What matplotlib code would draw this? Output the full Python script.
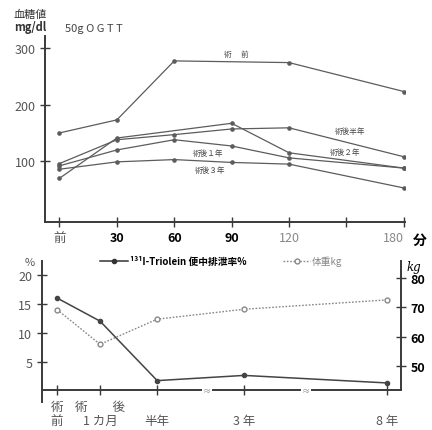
import matplotlib
matplotlib.use("Agg")
import matplotlib.pyplot as plt
from matplotlib.lines import Line2D

plt.rcParams['font.family'] = ['Noto Sans CJK JP', 'DejaVu Sans']

# 50g OGTT blood glucose (mg/dl)
minutes = [0, 30, 60, 90, 120, 180]
minutes_pre = [0, 30, 60, 120, 180]
minutes_2y = [0, 30, 90, 120, 180]
pre_op = [150, 173, 277, 274, 223]
half_year = [96, 138, 147, 157, 159, 108]
one_year = [92, 120, 138, 127, 106, 88]
two_year = [70, 141, 167, 115, 88]
three_year = [86, 99, 103, 98, 95, 53]

# 131I-Triolein fecal excretion (%) and body weight (kg)
periods = ['術\n前', '術　　後\n1 カ月', '\n半年', '\n3 年', '\n8 年']
period_pos = [0, 1, 2.33, 4.35, 7.67]
triolein = [16.0, 12.0, 1.7, 2.6, 1.3]
weight = [69.3, 57.4, 66.0, 69.4, 72.6]

line_c = '#5c5c5c'
axis_c = '#3a3a3a'
text_c = '#555555'

fig = plt.figure(figsize=(4.32, 4.31), dpi=100)

# upper chart
ax = fig.add_axes([0.104, 0.4833, 0.833, 0.431])
for xs, ys in [(minutes_pre, pre_op), (minutes, half_year), (minutes, one_year),
               (minutes_2y, two_year), (minutes, three_year)]:
    ax.plot(xs, ys, color=line_c, lw=0.9, marker='o', ms=2.3)
ax.set_xlim(-7.6, 180.5)
ax.set_ylim(-6.5, 321)
for s in ['top', 'right']:
    ax.spines[s].set_visible(False)
for s in ['left', 'bottom']:
    ax.spines[s].set_color(axis_c)
    ax.spines[s].set_linewidth(1.4)
ax.set_yticks([100, 200, 300])
ax.set_yticklabels(['100', '200', '300'], color=text_c, fontsize=9)
ax.set_xticks([0, 30, 60, 90, 120, 150, 180])
ax.set_xticklabels(['前', '30', '60', '90', '120', '', '180'], fontsize=9)
for lbl, c, w in zip(ax.get_xticklabels(), [text_c, 'black', 'black', 'black', '#888888', 'black', '#888888'],
                     ['normal', 'bold', 'bold', 'bold', 'normal', 'normal', 'normal']):
    lbl.set_color(c)
    lbl.set_fontweight(w)
ax.get_xticklabels()[-1].set_horizontalalignment('right')
ax.get_xticklabels()[-1].set_x(181)
ax.tick_params(direction='inout', length=7, width=1.0, color=axis_c, pad=3)

lab_kw = dict(fontsize=5.5, color='#444444', ha='center', va='center')
ax.text(92.6, 289, '術　 前', **lab_kw)
ax.text(152, 153, '術後半年', **lab_kw)
ax.text(149.5, 116, '術後２年', **lab_kw)
ax.text(77.5, 114, '術後１年', **lab_kw)
ax.text(78.5, 85, '術後３年', **lab_kw)

fig.text(30 / 432, 1 - 15 / 431, '血糖値', fontsize=8, color='#333333', ha='center', va='center')
fig.text(30 / 432, 1 - 28 / 431, 'mg/dl', fontsize=8, color='#333333', ha='center', va='center',
         fontweight='bold')
fig.text(65 / 432, 1 - 29 / 431, '50g O G T T', fontsize=8, color='#444444', ha='left', va='center')
fig.text(420 / 432, 1 - 241 / 431, '分', fontsize=10, color='black', ha='center', va='center',
         fontweight='bold')

# lower chart
bx = fig.add_axes([0.0972, 0.065, 0.831, 0.327])
bx.plot(period_pos, triolein, color='#444444', lw=1.1, marker='o', ms=3)
bx.set_xlim(-0.35, 8.0)
bx.set_ylim(-2, 22.4)
for s in ['top', 'right']:
    bx.spines[s].set_visible(False)
bx.spines['bottom'].set_position(('data', 0))
for s in ['left', 'bottom']:
    bx.spines[s].set_color(axis_c)
    bx.spines[s].set_linewidth(1.4)
bx.set_yticks([5, 10, 15, 20])
bx.set_yticklabels(['5', '10', '15', '20'], color=text_c, fontsize=9)
bx.set_xticks(period_pos)
bx.set_xticklabels(periods, color=text_c, fontsize=9, linespacing=1.05)
bx.tick_params(direction='inout', length=7, width=1.0, color=axis_c)
for xb in [3.49, 5.79]:
    bx.text(xb, 0, '≈', fontsize=6, color='#888888', ha='center', va='center',
            bbox=dict(boxstyle='square,pad=0.05', fc='white', ec='none'))

cx = bx.twinx()
cx.plot(period_pos, weight, color='#888888', lw=1.0, ls=(0, (1.2, 1.2)), marker='o', ms=3.5,
        mfc='white', mec='#888888')
cx.set_ylim(37.65, 85.9)
for s in ['top', 'left', 'bottom']:
    cx.spines[s].set_visible(False)
cx.spines['right'].set_color(axis_c)
cx.spines['right'].set_linewidth(1.4)
cx.spines['right'].set_bounds(41.6, 85.9)
cx.set_yticks([50, 60, 70, 80])
cx.set_yticklabels(['50', '60', '70', '80'], fontsize=9, fontweight='bold')
cx.tick_params(direction='inout', length=7, width=1.0, color=axis_c)

fig.text(30 / 432, 1 - 263 / 431, '%', fontsize=8, color=text_c, ha='center', va='center')
fig.text(414 / 432, 1 - 268 / 431, 'kg', fontsize=8.5, color='black', ha='center', va='center',
         family='DejaVu Serif', style='italic')

handles = [Line2D([], [], color='#333333', lw=1.1, marker='o', ms=3),
           Line2D([], [], color='#888888', lw=1.0, ls=(0, (1.2, 1.2)), marker='o', ms=3.5,
                  mfc='white', mec='#888888')]
leg = bx.legend(handles, ['¹³¹I-Triolein 便中排泄率%', '体重kg'], ncol=2, frameon=False,
                loc='center', bbox_to_anchor=(0.5, 1.0), fontsize=7, handlelength=2.8,
                handletextpad=0.2, columnspacing=3.8)
leg.get_texts()[0].set_fontweight('bold')
leg.get_texts()[1].set_color('#888888')

fig.savefig('out.png', dpi=100)
